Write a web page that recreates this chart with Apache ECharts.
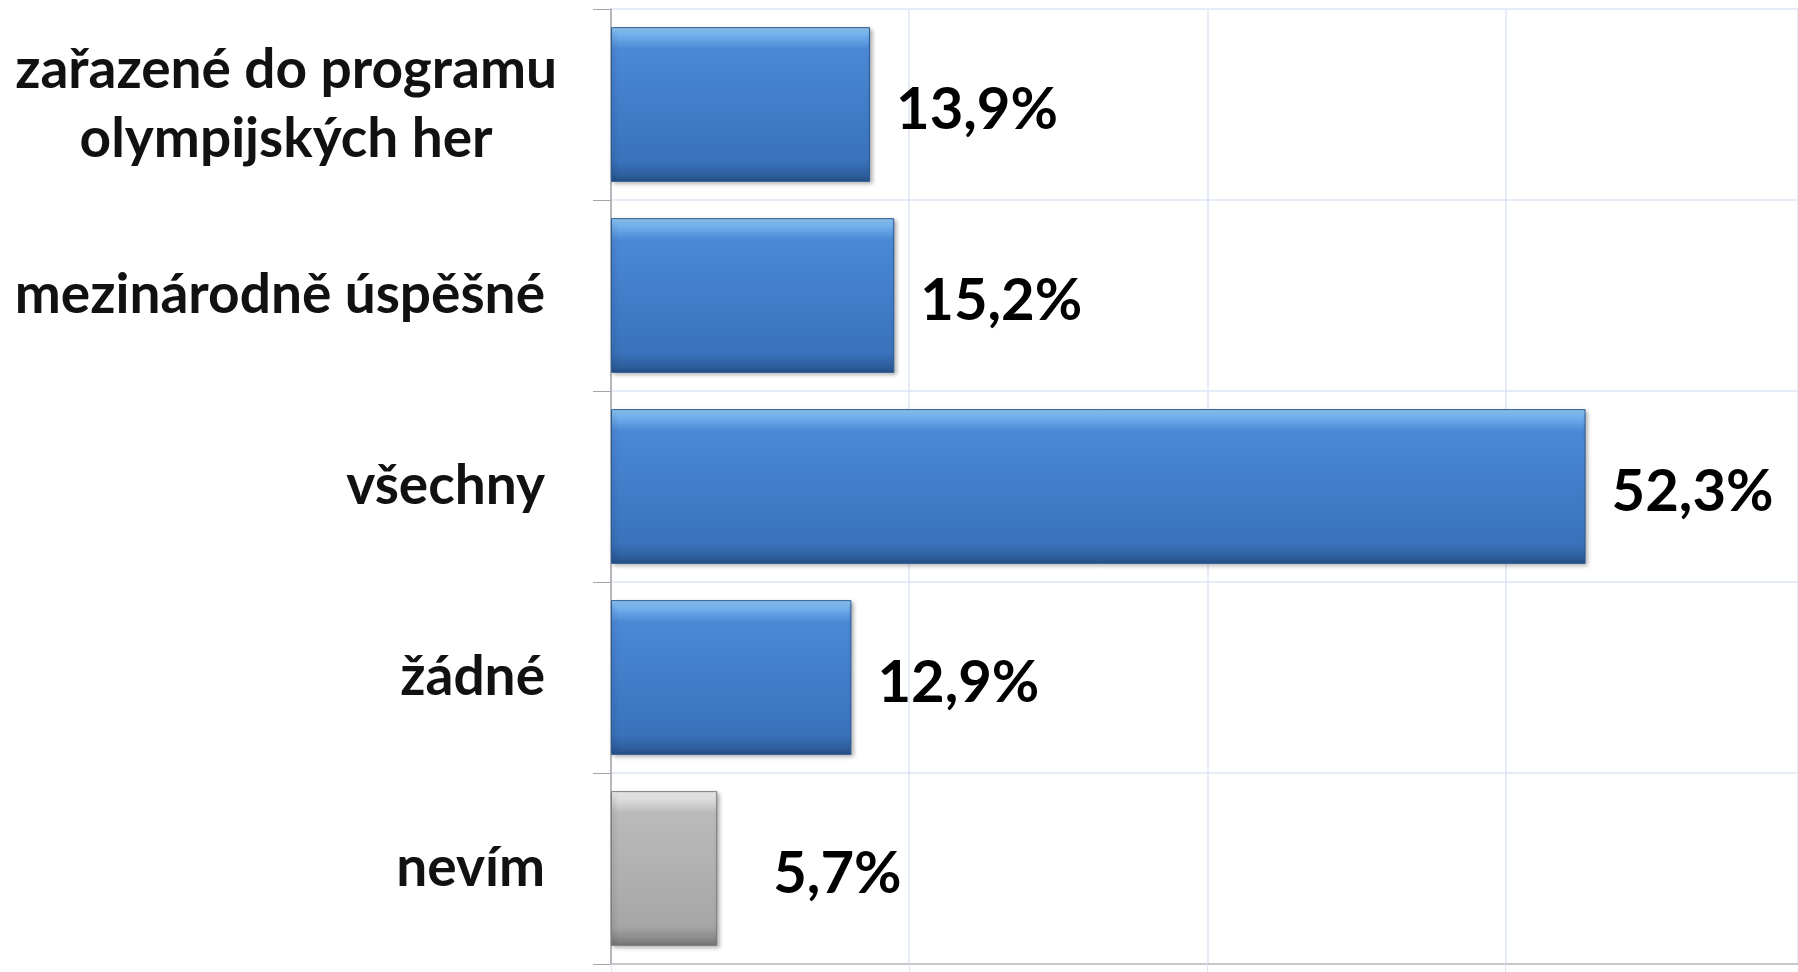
<!DOCTYPE html>
<html>
<head>
<meta charset="utf-8">
<script src="https://cdn.jsdelivr.net/npm/echarts@6/dist/echarts.min.js"></script>
<style>
  html, body { margin: 0; padding: 0; background: #fff; }
  #chart { width: 1798px; height: 972px; }
</style>
</head>
<body>
<div id="chart"></div>
<script>
// categories top -> bottom
const categories = [
  "zařazené do programu\nolympijských her",
  "mezinárodně úspěšné",
  "všechny",
  "žádné",
  "nevím"
];
const values = [13.9, 15.2, 52.3, 12.9, 5.7];
// original is cropped just before the 64 gridline
const axisMax = 63.7;
const axisStep = 16;

const blueFill = new echarts.graphic.LinearGradient(0, 0, 0, 1, [
  { offset: 0, color: "#94ccf6" },
  { offset: 0.05, color: "#72b0ed" },
  { offset: 0.14, color: "#4b89d5" },
  { offset: 0.5, color: "#417dc9" },
  { offset: 0.87, color: "#3a72bb" },
  { offset: 0.95, color: "#2f609f" },
  { offset: 1, color: "#254f85" }
]);
const greyFill = new echarts.graphic.LinearGradient(0, 0, 0, 1, [
  { offset: 0, color: "#f4f4f4" },
  { offset: 0.05, color: "#dedede" },
  { offset: 0.14, color: "#bababa" },
  { offset: 0.5, color: "#b1b1b1" },
  { offset: 0.87, color: "#a6a6a6" },
  { offset: 0.95, color: "#8c8c8c" },
  { offset: 1, color: "#727272" }
]);

const barData = values.map((v, i) => {
  let isLast = i === values.length - 1;
  return {
    value: v,
    itemStyle: {
      color: isLast ? greyFill : blueFill,
      borderColor: isLast ? "#7a7a7a" : "#2b5a95",
      borderWidth: 1
    },
    label: { distance: isLast ? 56 : 26 }
  };
});

let myChart = echarts.init(document.getElementById("chart"));
myChart.setOption({
  backgroundColor: "#fff",
  animation: false,
  grid: { left: 611, right: 0, top: 9, bottom: 8 },
  xAxis: {
    type: "value",
    min: 0,
    max: axisMax,
    interval: axisStep,
    axisLabel: { show: false },
    axisLine: { show: true, lineStyle: { color: "#bdbdbd", width: 1.5 } },
    axisTick: { show: true, length: 8, lineStyle: { color: "#dce4f4" } },
    splitLine: { show: true, lineStyle: { color: "#dde5f5", width: 1.5 } }
  },
  yAxis: {
    type: "category",
    inverse: true,
    data: categories,
    axisLine: { show: true, lineStyle: { color: "#a6a6a6", width: 1.5 } },
    axisTick: { show: true, length: 18, lineStyle: { color: "#a6a6a6" } },
    splitLine: { show: true, lineStyle: { color: "#dde5f5", width: 1.5 } },
    axisLabel: {
      margin: 54,
      color: "#111",
      fontFamily: "Lato",
      fontWeight: "bold",
      fontSize: 55,
      formatter: (value) => {
        if (value.indexOf("\n") >= 0) {
          return value.split("\n").map(s => "{c|" + s + "}").join("\n");
        }
        return "{n|" + value + "}";
      },
      rich: {
        c: { align: "center", fontFamily: "Lato", fontWeight: "bold", fontSize: 55, lineHeight: 69, color: "#111" },
        n: { padding: [0, 12, 0, 0], fontFamily: "Lato", fontWeight: "bold", fontSize: 55, color: "#111" }
      }
    }
  },
  series: [
    {
      type: "bar",
      barCategoryGap: "19%",
      data: barData,
      itemStyle: {
        shadowColor: "rgba(0,0,0,0.3)",
        shadowBlur: 4,
        shadowOffsetX: 2,
        shadowOffsetY: 2
      },
      label: {
        show: true,
        position: "right",
        offset: [0, 6],
        color: "#000",
        fontFamily: "Lato",
        fontWeight: "bold",
        fontSize: 58,
        formatter: (p) => p.value.toFixed(1).replace(".", ",") + "%"
      }
    }
  ]
});

window.addEventListener("resize", () => {
  myChart.resize();
});
</script>
</body>
</html>
